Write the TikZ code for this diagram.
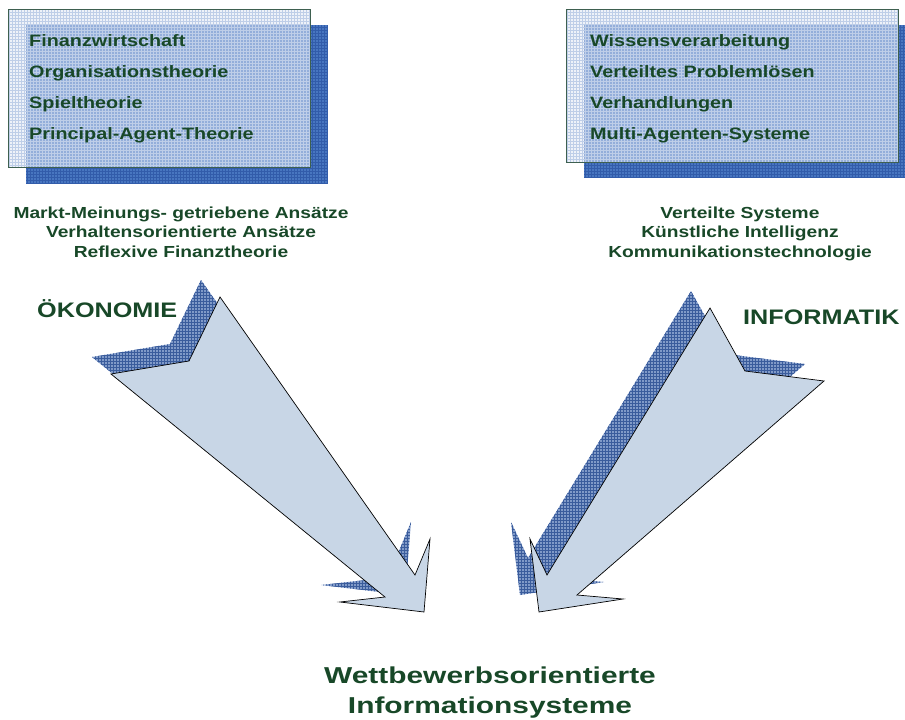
\documentclass[tikz,border=0pt]{standalone}
\usepackage{fontspec}
\setmainfont{Liberation Sans}[FakeStretch=1.2]
\newfontfamily\widefont{Liberation Sans}[FakeStretch=1.3]
\definecolor{textgreen}{RGB}{24,72,40}
\definecolor{arrowfill}{RGB}{200,214,230}
\definecolor{shadowfill}{RGB}{128,154,200}
\definecolor{shadowgrid}{RGB}{58,92,156}
\definecolor{boxblue}{RGB}{72,118,192}
\definecolor{boxgrid}{RGB}{50,92,170}
\definecolor{panelfill}{RGB}{222,230,244}
\definecolor{panelgrid}{RGB}{190,206,232}
\definecolor{panelborder}{RGB}{62,96,80}

\begin{document}
\begin{tikzpicture}[x=1pt, y=-1pt]
		\tikzstyle {checked} = [path picture={\draw[step=3pt, line width=0.3pt, #1] (path picture bounding box.south west) grid (path picture bounding box.north east);}]
		\tikzstyle {back box} = [fill=boxblue, checked=boxgrid]
		\tikzstyle {front box} = [draw=panelborder, line width=0.8pt, fill=panelfill, fill opacity=0.5, checked=panelgrid]
		\tikzstyle {arrow shadow} = [fill=shadowfill, checked=shadowgrid]
		\tikzstyle {big arrow} = [draw=black, line width=0.7pt, fill=arrowfill, line join=miter]
		\tikzstyle {box text} = [anchor=base west, inner sep=0, text=textgreen, font=\fontsize{16.5}{19}\selectfont\bfseries]
		\tikzstyle {field text} = [anchor=base, inner sep=0, text=textgreen, font=\fontsize{16}{19}\selectfont\bfseries]
		\tikzstyle {field title} = [anchor=base west, inner sep=0, text=textgreen, font=\fontsize{21}{25}\selectfont\bfseries]
		\tikzstyle {goal text} = [anchor=base, inner sep=0, text=textgreen, font=\widefont\fontsize{23}{28}\selectfont\bfseries]

		\useasboundingbox (0,0) rectangle (905,720);

		% Kasten Oekonomie
		\path[back box] (26,25) rectangle (328,183);
		\path[front box] (8,9) rectangle (310,167);
		\node (fin) [box text] at (29,46) {Finanzwirtschaft};
		\node (org) [box text] at (29,77) {Organisationstheorie};
		\node (spiel) [box text] at (29,108) {Spieltheorie};
		\node (pat) [box text] at (29,139) {Principal-Agent-Theorie};

		% Kasten Informatik
		\path[back box] (584,25) rectangle (905,177);
		\path[front box] (566,9) rectangle (898,162);
		\node (wiss) [box text] at (590,46) {Wissensverarbeitung};
		\node (vps) [box text] at (590,77) {Verteiltes Probleml\"osen};
		\node (verh) [box text] at (590,108) {Verhandlungen};
		\node (mas) [box text] at (590,139) {Multi-Agenten-Systeme};

		\node (markt) [field text] at (181,218) {Markt-Meinungs- getriebene Ans\"atze};
		\node (verhalt) [field text] at (181,237) {Verhaltensorientierte Ans\"atze};
		\node (reflex) [field text] at (181,257) {Reflexive Finanztheorie};

		\node (vsys) [field text] at (740,218) {Verteilte Systeme};
		\node (ki) [field text] at (740,237) {K\"unstliche Intelligenz};
		\node (komm) [field text] at (740,257) {Kommunikationstechnologie};

		% Pfeile
		\path[arrow shadow, shift={(-19,-17)}] (220,297) -- (189,361) -- (111,374) -- (385,597) -- (340,602) -- (424,612) -- (430,539) -- (415,575) -- cycle;
		\path[arrow shadow, shift={(-19,-17)}] (710,308) -- (745,371) -- (824,381) -- (577,595) -- (623,599) -- (539,612) -- (530,539) -- (547,575) -- cycle;
		\draw[big arrow] (220,297) -- (189,361) -- (111,374) -- (385,597) -- (340,602) -- (424,612) -- (430,539) -- (415,575) -- cycle;
		\draw[big arrow] (710,308) -- (745,371) -- (824,381) -- (577,595) -- (623,599) -- (539,612) -- (530,539) -- (547,575) -- cycle;

		\node (oek) [field title] at (37,317) {\"OKONOMIE};
		\node (inf) [field title] at (743,324) {INFORMATIK};

		\node (wett) [goal text] at (490,683) {Wettbewerbsorientierte};
		\node (infsys) [goal text] at (490,713) {Informationsysteme};
\end{tikzpicture}
\end{document}
